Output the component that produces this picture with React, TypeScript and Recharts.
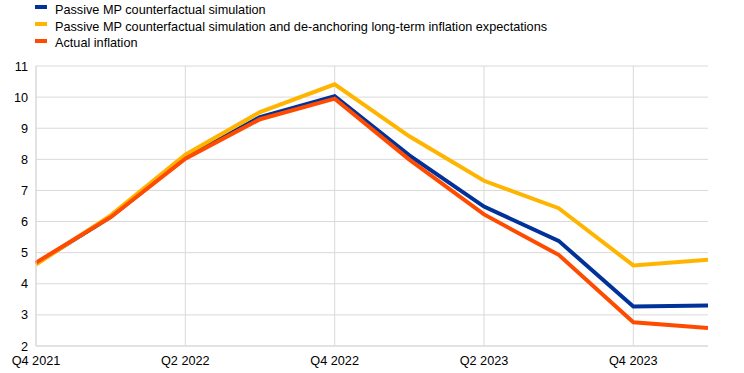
import React from 'react';
import { LineChart, Line, XAxis, YAxis, CartesianGrid, ReferenceLine } from 'recharts';

const quarters = ['Q4 2021', 'Q1 2022', 'Q2 2022', 'Q3 2022', 'Q4 2022', 'Q1 2023', 'Q2 2023', 'Q3 2023', 'Q4 2023', 'Q1 2024'];
const passiveMp = [4.65, 6.15, 8.05, 9.36, 10.03, 8.13, 6.48, 5.38, 3.27, 3.3];
const passiveDeanchor = [4.62, 6.2, 8.15, 9.52, 10.41, 8.74, 7.31, 6.43, 4.59, 4.77];
const actual = [4.68, 6.14, 8.02, 9.29, 9.95, 7.99, 6.23, 4.93, 2.76, 2.58];
const xTicks = ['Q4 2021', 'Q2 2022', 'Q4 2022', 'Q2 2023', 'Q4 2023'];
const yTicks = [2, 3, 4, 5, 6, 7, 8, 9, 10, 11];

const series = [
    { key: 'passiveMp', name: 'Passive MP counterfactual simulation', color: '#003299' },
    { key: 'passiveDeanchor', name: 'Passive MP counterfactual simulation and de-anchoring long-term inflation expectations', color: '#ffb400' },
    { key: 'actual', name: 'Actual inflation', color: '#ff4b00' },
];

const data = quarters.map((q, i) => ({
    quarter: q,
    passiveMp: passiveMp[i],
    passiveDeanchor: passiveDeanchor[i],
    actual: actual[i],
}));

const font = '"Liberation Sans", Arial, sans-serif';
const gridColor = '#d9d9d9';

const App: React.FC = () => {
    return (
        <div style={{ position: 'absolute', left: 0, top: 0, width: 744, height: 373, background: '#fff', fontFamily: font }}>
            <div style={{ position: 'absolute', left: 35, top: 2, fontSize: 12.7, color: '#000', lineHeight: '16.7px' }}>
                {series.map(s => (
                    <div key={s.key} style={{ display: 'flex', alignItems: 'center', height: 16.7, whiteSpace: 'nowrap' }}>
                        <span style={{ display: 'inline-block', width: 12, height: 4, background: s.color, marginRight: 8, position: 'relative', top: -3 }} />
                        <span>{s.name}</span>
                    </div>
                ))}
            </div>
            <LineChart width={744} height={373} data={data} margin={{ top: 66, right: 36, left: 6, bottom: 7 }}>
                <CartesianGrid stroke={gridColor} strokeWidth={1} vertical={false} />
                {xTicks.map(t => (
                    <ReferenceLine key={t} x={t} stroke={gridColor} strokeWidth={1} />
                ))}
                <XAxis
                    dataKey="quarter"
                    ticks={xTicks}
                    interval={0}
                    tickLine={false}
                    axisLine={{ stroke: gridColor }}
                    tickSize={4}
                    tickMargin={6}
                    height={20}
                    tick={{ fill: '#000', fontSize: 12.7, fontFamily: font }}
                />
                <YAxis
                    domain={[2, 11]}
                    ticks={yTicks}
                    tickLine={false}
                    axisLine={{ stroke: gridColor }}
                    tickSize={4}
                    tickMargin={4}
                    width={30}
                    tick={{ fill: '#000', fontSize: 12.7, fontFamily: font }}
                />
                {series.map(s => (
                    <Line
                        key={s.key}
                        type="linear"
                        dataKey={s.key}
                        name={s.name}
                        stroke={s.color}
                        strokeWidth={4}
                        dot={false}
                        activeDot={false}
                        isAnimationActive={false}
                    />
                ))}
            </LineChart>
        </div>
    );
};

export default App;
